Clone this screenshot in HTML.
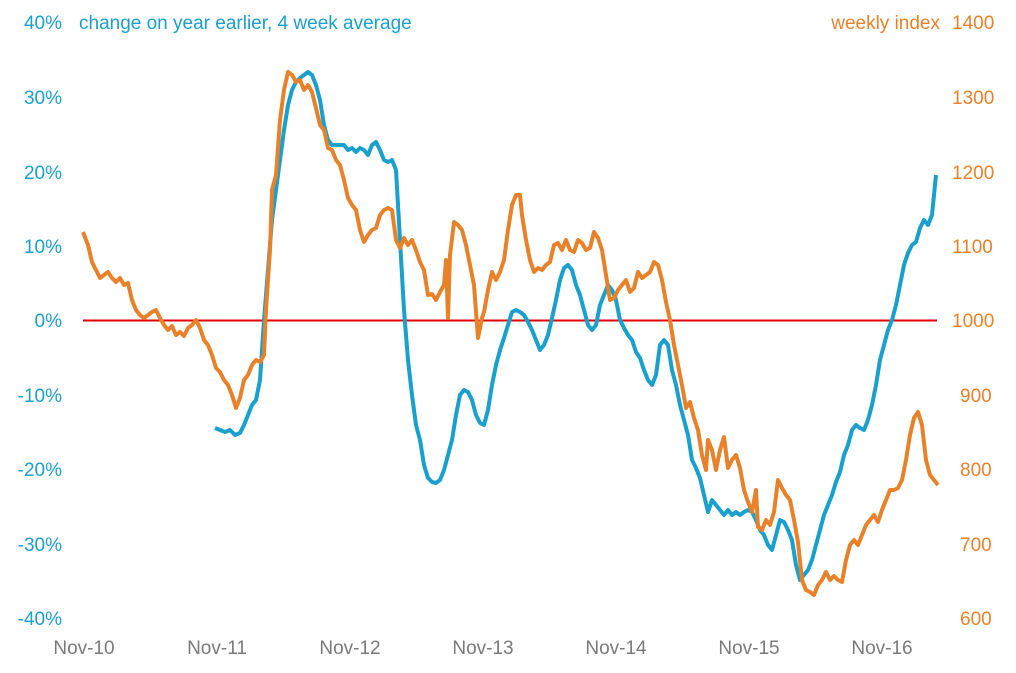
<!DOCTYPE html>
<html><head><meta charset="utf-8"><style>
html,body{margin:0;padding:0;background:#fff;}
svg{display:block;font-family:"Liberation Sans",sans-serif;}
</style></head><body>
<svg width="1016" height="673" viewBox="0 0 1016 673">
<g font-size="19" fill="#1aa0cc" text-anchor="end">
<text x="62" y="29">40%</text><text x="62" y="104">30%</text><text x="62" y="179">20%</text><text x="62" y="253">10%</text><text x="62" y="327">0%</text><text x="62" y="402">-10%</text><text x="62" y="476">-20%</text><text x="62" y="551">-30%</text><text x="62" y="625">-40%</text>
</g>
<text x="79" y="29" font-size="19" fill="#1aa0cc">change on year earlier, 4 week average</text>
<text x="940" y="29" font-size="19" fill="#e8822a" text-anchor="end">weekly index</text>
<g font-size="19" fill="#e8822a" text-anchor="start">
<text x="952" y="29">1400</text><text x="952" y="104">1300</text><text x="952" y="179">1200</text><text x="952" y="253">1100</text><text x="952" y="327">1000</text><text x="960" y="402">900</text><text x="960" y="476">800</text><text x="960" y="551">700</text><text x="960" y="625">600</text>
</g>
<g font-size="19" fill="#7a7a7a" text-anchor="middle">
<text x="84" y="654">Nov-10</text><text x="217" y="654">Nov-11</text><text x="350" y="654">Nov-12</text><text x="483" y="654">Nov-13</text><text x="616" y="654">Nov-14</text><text x="749" y="654">Nov-15</text><text x="882" y="654">Nov-16</text>
</g>
<line x1="83" y1="320.5" x2="937" y2="320.5" stroke="#e00000" stroke-width="2"/>
<polyline fill="none" stroke="#1aa0cc" stroke-width="4" stroke-linejoin="round" points="215,428 220,430 225,432 230,430 235,435 240,433 244,425 248,415 252,405 256,400 260,380 264,320 268,270 272,220 276,190 280,160 284,130 288,105 292,90 296,82 300,78 304,75 308,72 312,75 316,85 320,100 324,125 328,140 332,145 336,145 340,145 344,145 348,150 352,148 356,152 360,148 364,150 368,155 372,145 376,142 380,150 384,160 388,162 392,160 396,170 400,240 404,310 408,360 412,395 416,425 420,440 424,465 428,478 432,482 436,483 440,480 444,470 448,455 452,440 456,415 460,395 464,390 468,392 472,400 476,415 480,423 484,425 488,410 492,385 496,365 500,350 504,338 508,325 512,312 516,310 520,312 524,315 528,322 532,330 536,340 540,350 544,345 548,335 552,318 556,300 560,280 564,268 568,265 572,270 576,285 580,295 584,310 588,325 592,330 596,325 600,305 604,295 608,285 612,290 616,300 620,320 624,328 628,335 632,340 636,352 640,358 644,370 648,380 652,385 656,375 660,345 664,340 668,345 672,370 676,385 680,405 684,420 688,435 692,460 696,468 700,478 704,495 708,512 712,500 716,505 720,510 724,515 728,510 732,515 736,512 740,515 744,512 748,510 752,512 756,520 760,530 764,535 768,545 772,550 776,535 780,520 784,522 788,530 792,540 796,565 800,580 804,575 808,570 812,560 816,545 820,530 824,515 828,505 832,495 836,482 840,472 844,455 848,445 852,430 856,425 860,428 864,430 868,420 872,405 876,385 880,360 884,345 888,330 892,320 896,305 900,285 904,265 908,253 912,245 916,242 920,228 924,220 928,225 932,215 936,175"/>
<polyline fill="none" stroke="#e8822a" stroke-width="4" stroke-linejoin="round" points="83,232 88,245 92,262 96,270 100,278 104,275 108,272 112,278 116,282 120,278 124,285 128,283 132,300 136,310 140,315 144,318 148,315 152,312 156,310 160,318 164,325 168,330 172,326 176,335 180,332 184,336 188,328 192,325 196,320 200,328 204,340 208,345 212,355 216,368 220,372 224,380 228,385 232,395 236,408 240,398 244,380 248,375 252,365 256,360 260,362 264,355 266,310 270,250 272,190 276,175 280,120 284,90 288,72 292,75 296,82 300,80 304,90 308,85 312,92 316,108 320,125 324,130 328,148 332,150 336,160 340,165 344,180 348,198 352,205 356,210 360,230 364,242 368,235 372,230 376,228 380,215 384,210 388,208 392,210 396,240 400,248 404,238 408,245 412,240 416,250 420,262 424,270 428,295 432,294 436,300 440,292 444,285 446,260 448,318 450,255 454,222 458,225 462,230 466,245 470,265 474,285 478,338 482,318 484,312 488,290 492,272 496,280 500,272 504,260 508,230 512,205 516,195 520,195 522,215 526,240 530,260 534,272 538,268 542,270 546,265 550,262 554,245 558,243 562,250 566,240 570,250 574,252 578,240 582,243 586,250 590,248 594,232 598,238 602,250 606,275 610,300 614,298 618,290 622,285 626,280 630,292 634,288 638,272 642,278 646,275 650,272 654,262 658,265 662,280 666,302 670,320 674,345 678,365 682,385 686,408 690,402 694,418 698,430 702,455 706,470 708,440 712,450 716,470 720,450 724,437 728,468 732,460 736,455 740,468 744,490 748,502 752,512 756,490 758,527 762,530 766,520 770,525 774,512 778,480 782,488 786,495 790,500 794,520 798,542 802,580 806,590 810,592 814,595 818,585 822,580 826,572 830,580 834,576 838,580 842,582 846,560 850,545 854,540 858,545 862,535 866,525 870,520 874,515 878,522 882,510 886,500 890,490 894,490 898,488 902,480 906,460 910,435 914,418 918,412 922,425 926,460 930,475 934,480 938,485"/>
</svg>
</body></html>
